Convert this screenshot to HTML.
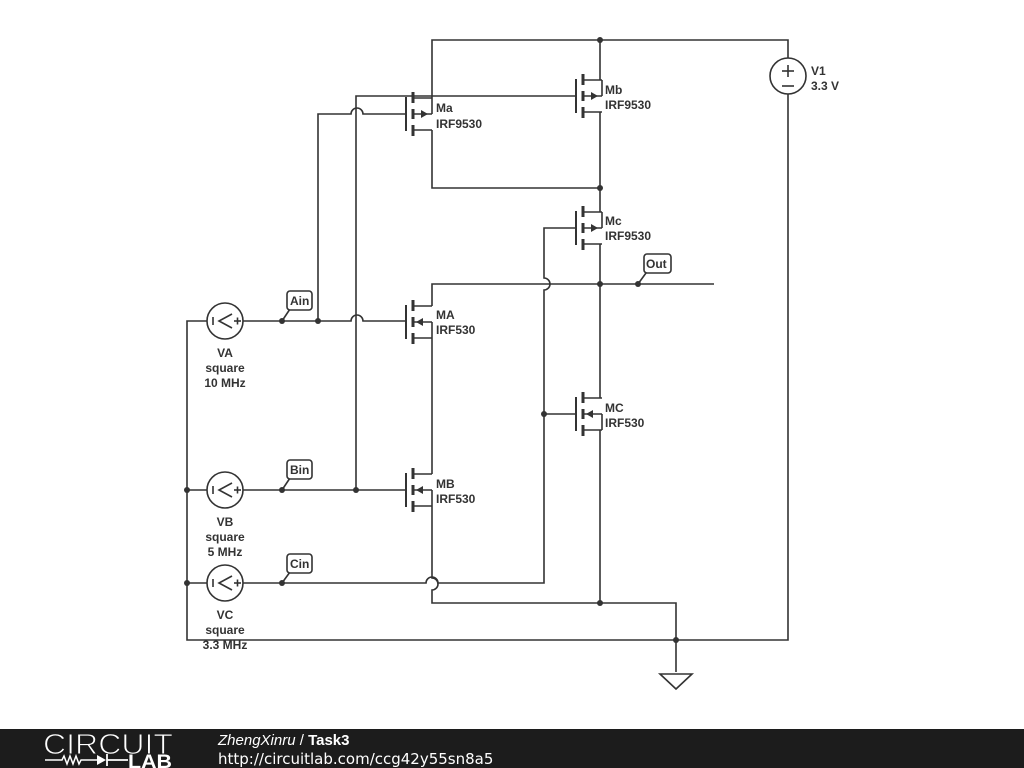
<!DOCTYPE html>
<html><head><style>
body{margin:0;width:1024px;height:768px;background:#fff;overflow:hidden;font-family:"Liberation Sans",sans-serif}
svg{position:absolute;left:0;top:0}
.t{font:bold 12px "Liberation Sans",sans-serif;fill:#333}
</style></head><body>
<svg width="1024" height="768" viewBox="0 0 1024 768">
<defs>
<g id="pm" stroke="#333" fill="none">
<line x1="0" y1="-17" x2="0" y2="17" stroke-width="2"/>
<g stroke-width="3"><line x1="7" y1="-22" x2="7" y2="-11"/><line x1="7" y1="-5" x2="7" y2="5"/><line x1="7" y1="11" x2="7" y2="22"/></g>
<g stroke-width="1.6"><line x1="7" y1="-16" x2="26" y2="-16"/><line x1="7" y1="0" x2="26" y2="0"/><line x1="7" y1="16" x2="26" y2="16"/><line x1="26" y1="-16" x2="26" y2="0"/></g>
<polygon points="22,0 15,-4 15,4" fill="#333" stroke="none"/>
</g>
<g id="nm" stroke="#333" fill="none">
<line x1="0" y1="-17" x2="0" y2="17" stroke-width="2"/>
<g stroke-width="3"><line x1="7" y1="-22" x2="7" y2="-11"/><line x1="7" y1="-5" x2="7" y2="5"/><line x1="7" y1="11" x2="7" y2="22"/></g>
<g stroke-width="1.6"><line x1="7" y1="-16" x2="26" y2="-16"/><line x1="7" y1="0" x2="26" y2="0"/><line x1="7" y1="16" x2="26" y2="16"/><line x1="26" y1="0" x2="26" y2="16"/></g>
<polygon points="10,0 17,-4 17,4" fill="#333" stroke="none"/>
</g>
<g id="src" stroke="#333" fill="none" stroke-width="1.6">
<circle cx="0" cy="0" r="18" fill="#fff"/>
<path d="M7,-7 L-6,0 L7,7"/>
<line x1="-12" y1="-4" x2="-12" y2="4"/>
<line x1="9" y1="0" x2="16" y2="0"/><line x1="12.5" y1="-3.5" x2="12.5" y2="3.5"/>
</g>
</defs>
<g stroke="#333" stroke-width="1.6" fill="none">
<path d="M432,98 V40 H788 V58"/>
<path d="M788,94 V640 H187 V321 H207"/>
<path d="M600,80 V40"/>
<path d="M432,130 V188 H600"/>
<path d="M600,112 V212"/>
<path d="M600,244 V398"/>
<path d="M600,430 V603"/>
<path d="M243,321 H351 a6,6 0 0 1 12,0 H406"/>
<path d="M318,321 V114 H351 a6,6 0 0 1 12,0 H406"/>
<path d="M356,490 V96 H576"/>
<path d="M207,490 H187"/><path d="M243,490 H406"/>
<path d="M207,583 H187"/><path d="M243,583 H426 a6,6 0 0 1 12,0 H544 V290 a6,6 0 0 0 0,-12 V228 H576"/>
<path d="M544,414 H576"/>
<path d="M432,306 V284 H714"/>
<path d="M432,338 V474"/>
<path d="M432,506 V578 a6,6 0 0 1 0,12 V603 H676 V672"/>
<polygon points="660,674 692,674 676,689" fill="#fff"/>
</g>
<use href="#pm" x="406" y="114"/>
<use href="#pm" x="576" y="96"/>
<use href="#pm" x="576" y="228"/>
<use href="#nm" x="406" y="322"/>
<use href="#nm" x="406" y="490"/>
<use href="#nm" x="576" y="414"/>
<use href="#src" x="225" y="321"/>
<use href="#src" x="225" y="490"/>
<use href="#src" x="225" y="583"/>
<g stroke="#333" stroke-width="1.6" fill="#fff">
<circle cx="788" cy="76" r="18"/>
<line x1="782" y1="71" x2="794" y2="71"/><line x1="788" y1="65" x2="788" y2="77"/><line x1="782" y1="86" x2="794" y2="86"/>
</g>
<g fill="#333">
<circle cx="600" cy="40" r="3"/><circle cx="600" cy="188" r="3"/><circle cx="600" cy="284" r="3"/><circle cx="600" cy="603" r="3"/>
<circle cx="318" cy="321" r="3"/><circle cx="356" cy="490" r="3"/><circle cx="544" cy="414" r="3"/>
<circle cx="187" cy="490" r="3"/><circle cx="187" cy="583" r="3"/><circle cx="676" cy="640" r="3"/>
<circle cx="282" cy="321" r="3"/><circle cx="282" cy="490" r="3"/><circle cx="282" cy="583" r="3"/><circle cx="638" cy="284" r="3"/>
</g>
<g stroke="#333" stroke-width="1.6" fill="#fff">
<path d="M282,321 L290,309"/><path d="M282,490 L290,478"/><path d="M282,583 L290,572"/><path d="M638,284 L646,273"/>
<rect x="287" y="291" width="25" height="19" rx="3"/>
<rect x="287" y="460" width="25" height="19" rx="3"/>
<rect x="287" y="554" width="25" height="19" rx="3"/>
<rect x="644" y="254" width="27" height="19" rx="3"/>
</g>
<g class="t">
<text x="290" y="305">Ain</text><text x="290" y="474">Bin</text><text x="290" y="568">Cin</text><text x="646" y="268">Out</text>
<text x="436" y="112">Ma</text><text x="436" y="128">IRF9530</text>
<text x="605" y="94">Mb</text><text x="605" y="109">IRF9530</text>
<text x="605" y="225">Mc</text><text x="605" y="240">IRF9530</text>
<text x="436" y="319">MA</text><text x="436" y="334">IRF530</text>
<text x="436" y="488">MB</text><text x="436" y="503">IRF530</text>
<text x="605" y="412">MC</text><text x="605" y="427">IRF530</text>
<text x="811" y="75">V1</text><text x="811" y="90">3.3 V</text>
<g text-anchor="middle">
<text x="225" y="357">VA</text><text x="225" y="372">square</text><text x="225" y="387">10 MHz</text>
<text x="225" y="526">VB</text><text x="225" y="541">square</text><text x="225" y="556">5 MHz</text>
<text x="225" y="619">VC</text><text x="225" y="634">square</text><text x="225" y="649">3.3 MHz</text>
</g>
</g>
<rect x="0" y="729" width="1024" height="39" fill="#1c1c1c"/>
<text x="43" y="754" fill="#fff" font-family="Liberation Sans" font-size="29" textLength="130" lengthAdjust="spacingAndGlyphs" stroke="#1c1c1c" stroke-width="1">CIRCUIT</text>
<path d="M45,760 H62 l2,-4 3,8 3,-8 3,8 3,-8 3,8 2,-4 H97" stroke="#fff" stroke-width="1.5" fill="none"/>
<polygon points="97,755 106,760 97,765" fill="#fff"/>
<path d="M107,754 V766 M107,760 H128" stroke="#fff" stroke-width="1.8"/>
<text x="128" y="768" fill="#fff" font-family="Liberation Sans" font-weight="bold" font-size="19" textLength="44" lengthAdjust="spacingAndGlyphs">LAB</text>
<text x="218" y="745" fill="#fff" font-size="15" font-family="Liberation Sans"><tspan font-style="italic">ZhengXinru</tspan> / <tspan font-weight="bold">Task3</tspan></text>
<text x="218" y="764" fill="#fff" font-size="15" font-family="DejaVu Sans">http://circuitlab.com/ccg42y55sn8a5</text>
</svg>
</body></html>
